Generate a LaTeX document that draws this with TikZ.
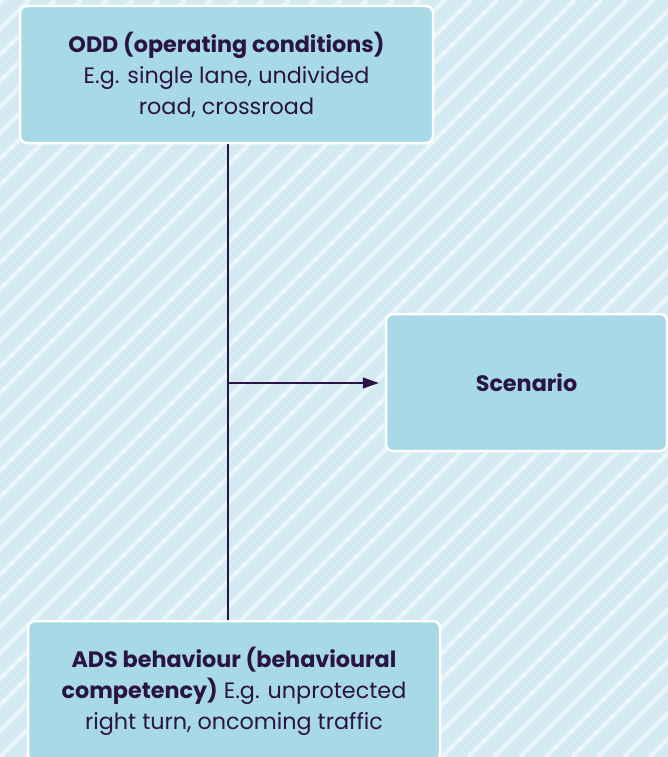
\documentclass[tikz,border=0pt]{standalone}
\usepackage{fontspec}
\setmainfont{Poppins}
\usetikzlibrary{arrows.meta}
\definecolor{bgblue}{HTML}{D4EAF2}
\definecolor{stripe}{HTML}{EAF5FA}
\definecolor{boxblue}{HTML}{A8D9E6}
\definecolor{ink}{HTML}{2A1445}
\tikzset{
  infobox/.style={draw=white, line width=2.5pt, fill=boxblue, rounded corners=7pt,
    text=ink, align=center, inner sep=0pt,
    font=\fontsize{22.3}{31}\selectfont},
  link/.style={draw=ink, line width=1.2pt},
}
\begin{document}
\begin{tikzpicture}[x=1pt,y=-1pt]
  % hatched backdrop
  \fill[bgblue] (0,0) rectangle (668,757);
  \useasboundingbox (0,0) rectangle (668,757);
  \begin{scope}
    \clip (0,0) rectangle (668,757);
    \foreach \k in {-30,...,60}
      \draw[stripe, line width=4.5pt] (\k*26,757) -- (\k*26+757,0);
  \end{scope}

  % boxes
  \node[infobox, minimum width=413pt, minimum height=137pt] (odd) at (226.5,74.5)
    {\textbf{ODD (operating conditions)}\\E.g. single lane, undivided\\road, crossroad};
  \node[infobox, minimum width=281pt, minimum height=137pt] (scen) at (526.5,382.5)
    {\textbf{Scenario}};
  \node[infobox, minimum width=412pt, minimum height=140pt] (ads) at (234,691)
    {\textbf{ADS behaviour (behavioural}\\\textbf{competency)} E.g. unprotected\\right turn, oncoming traffic};

  % connectors
  \coordinate (join) at (228,383);
  \draw[link] (odd.south -| join) -- (ads.north -| join);
  \draw[link, -{Triangle[length=16pt,width=11pt]}, shorten >=6pt] (join) -- (join -| scen.west);
\end{tikzpicture}
\end{document}
